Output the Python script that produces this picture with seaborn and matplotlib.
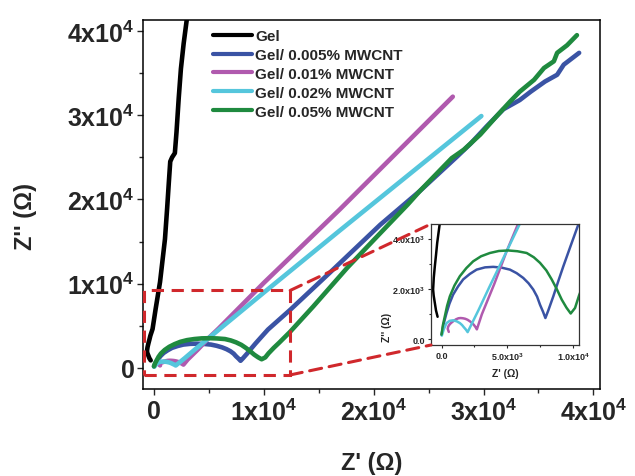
import matplotlib
matplotlib.use("Agg")
import matplotlib.pyplot as plt
import numpy as np
import pandas as pd
import seaborn as sns
from matplotlib.patches import Rectangle, ConnectionPatch
from matplotlib.lines import Line2D

# Nyquist data (Z' and Z'' in ohm)
gel_x = [-300, -420, -510, -600, -640, -590, -510, -420, -330, -130, 150, 550, 1000,
         1200, 1350, 1480, 1650, 1900, 2050, 2250, 2450, 2700, 3000]
gel_y = [900, 1150, 1450, 1750, 1980, 2450, 2900, 3350, 3830, 4620, 7000, 10200, 15300,
         19000, 22000, 24500, 25000, 25500, 28000, 32000, 35500, 38500, 41500]

cnt005_x = [0, 150, 380, 600, 880, 1250, 1640, 2150, 2660, 3300, 3920, 4550, 5190,
            5700, 6200, 6600, 6960, 7250, 7470, 7700, 7880, 8100, 8480, 8850, 9240,
            9800, 10380, 12400, 16000, 20600, 24200, 27600, 28800, 30300, 31800,
            33300, 34300, 35600, 36700, 37300, 38700]
cnt005_y = [190, 600, 1050, 1420, 1780, 2100, 2380, 2600, 2770, 2860, 2880, 2850, 2770,
            2630, 2440, 2230, 1980, 1700, 1380, 1100, 850, 1150, 1710, 2300, 2900,
            3720, 4560, 6900, 11300, 17000, 21000, 25100, 26600, 28700, 30700,
            31800, 32800, 34000, 34800, 36000, 37400]

cnt01_x = [550, 470, 500, 560, 650, 780, 930, 1100, 1280, 1450, 1630, 1800, 1980,
           2150, 2300, 2450, 2580, 2680, 3060, 4000, 4940, 5900, 10000, 16900, 27200]
cnt01_y = [300, 420, 500, 560, 620, 680, 740, 800, 840, 850, 840, 820, 780,
           720, 660, 580, 490, 400, 1000, 2200, 3500, 4700, 10100, 18800, 32200]

cnt02_x = [20, 180, 380, 620, 880, 1150, 1390, 1560, 1700, 1850, 1980, 2800, 3600,
           4940, 6000, 10000, 16900, 29800]
cnt02_y = [150, 420, 650, 740, 760, 720, 650, 570, 480, 390, 290, 1160, 2050,
           3500, 4650, 8950, 16300, 29900]

cnt05_x = [0, 100, 250, 420, 630, 980, 1390, 1880, 2400, 3000, 3670, 4350, 5060,
           5750, 6460, 7000, 7470, 7950, 8360, 8750, 9120, 9480, 9800, 10130, 10430,
           10900, 11400, 12400, 14500, 17600, 20600, 23100, 24200, 27100, 28200,
           29700, 31200, 32400, 33300, 34600, 35500, 36400, 36700, 37600, 38500]
cnt05_y = [190, 560, 920, 1330, 1710, 2140, 2510, 2830, 3100, 3300, 3430, 3510, 3530,
           3500, 3430, 3260, 3040, 2740, 2380, 1990, 1580, 1260, 1030, 1250, 1740,
           2380, 3000, 4300, 7300, 11900, 16000, 19400, 21000, 24900, 25900,
           27700, 29900, 31600, 32800, 34200, 35600, 36400, 37400, 38300, 39500]

labels = ["Gel", "Gel/ 0.005% MWCNT", "Gel/ 0.01% MWCNT",
          "Gel/ 0.02% MWCNT", "Gel/ 0.05% MWCNT"]
colors = ["#000000", "#3a53a4", "#b05aae", "#55c6dc", "#1f8a3f"]

main_xticks = [0, 10000, 20000, 30000, 40000]
main_xticklabels = ["0", "1x10$^4$", "2x10$^4$", "3x10$^4$", "4x10$^4$"]
main_yticks = [0, 10000, 20000, 30000, 40000]
main_yticklabels = ["0", "1x10$^4$", "2x10$^4$", "3x10$^4$", "4x10$^4$"]
ins_xticks = [0, 5000, 10000]
ins_xticklabels = ["0.0", "5.0x10$^3$", "1.0x10$^4$"]
ins_yticks = [0, 2000, 4000]
ins_yticklabels = ["0.0", "2.0x10$^3$", "4.0x10$^3$"]

# zoom window drawn on the main axes
zoom_x = (-900, 12400)
zoom_y = (-830, 9200)

series = [(gel_x, gel_y), (cnt005_x, cnt005_y), (cnt01_x, cnt01_y),
          (cnt02_x, cnt02_y), (cnt05_x, cnt05_y)]
frames = []
for lab, (xs, ys) in zip(labels, series):
    frames.append(pd.DataFrame({"zr": xs, "zi": ys, "sample": lab}))
df = pd.concat(frames, ignore_index=True)
palette = dict(zip(labels, colors))

sns.set_theme(style="ticks")
plt.rcParams["font.family"] = ["Liberation Sans", "DejaVu Sans"]
plt.rcParams["font.weight"] = "bold"
plt.rcParams["mathtext.fontset"] = "custom"
plt.rcParams["mathtext.rm"] = "Liberation Sans:bold"
plt.rcParams["mathtext.bf"] = "Liberation Sans:bold"
plt.rcParams["mathtext.it"] = "Liberation Sans:bold"
plt.rcParams["mathtext.default"] = "rm"

fig = plt.figure(figsize=(6.35, 4.77), dpi=100)
ax = fig.add_axes([143 / 635, 1 - 390 / 477, 457 / 635, 369 / 477])
axins = fig.add_axes([431 / 635, 1 - 346 / 477, 148 / 635, 121 / 477])

line_kws = dict(solid_joinstyle="round", solid_capstyle="round")

# main plot
sns.lineplot(data=df, x="zr", y="zi", hue="sample", palette=palette, sort=False,
             estimator=None, linewidth=3.3, legend=False, ax=ax, **line_kws)
ax.set_xlim(-1000, 40600)
ax.set_ylim(-2500, 41300)
ax.set_xticks(main_xticks)
ax.set_xticklabels(main_xticklabels)
ax.set_yticks(main_yticks)
ax.set_yticklabels(main_yticklabels)
ax.set_xticks(np.arange(5000, 40000, 10000), minor=True)
ax.set_yticks(np.arange(5000, 40000, 10000), minor=True)
ax.tick_params(which="major", length=4, width=1, direction="out", labelsize=18)
ax.tick_params(which="minor", length=3, width=1, direction="out")
ax.tick_params(axis="x", pad=3)
ax.tick_params(axis="y", pad=2)
for s in ax.spines.values():
    s.set_linewidth(1.1)
    s.set_color("black")
ax.set_xlabel("Z' (Ω)", fontsize=17, fontweight="bold")
ax.set_ylabel("Z'' (Ω)", fontsize=17, fontweight="bold")
ax.xaxis.set_label_coords(0.5, -0.198)
ax.xaxis.label.set_va("center")
ax.yaxis.set_label_coords(-0.258, 0.469)
ax.yaxis.label.set_va("center")

handles = [Line2D([], [], color=c, linewidth=3.0) for c in colors]
ax.legend(handles, labels, loc="upper left", bbox_to_anchor=(213 / 635, 1 - 30 / 477),
          bbox_transform=fig.transFigure, frameon=False, borderpad=0, borderaxespad=0,
          handlelength=2.55, handletextpad=0.2, labelspacing=0.32,
          prop={"size": 11, "weight": "bold"})

# zoom box and connectors
red = "#d0282c"
rect = Rectangle((zoom_x[0], zoom_y[0]), zoom_x[1] - zoom_x[0], zoom_y[1] - zoom_y[0],
                 fill=False, edgecolor=red, linewidth=2.2, linestyle=(0, (4, 2.5)),
                 zorder=5, clip_on=False)
ax.add_patch(rect)
for ya, yb in [(zoom_y[1], 1), (zoom_y[0], 0)]:
    con = ConnectionPatch(xyA=(zoom_x[1], ya), coordsA=ax.transData,
                          xyB=(0, yb), coordsB=axins.transAxes,
                          color=red, linewidth=2.2, linestyle=(0, (4, 2.5)), zorder=5)
    fig.add_artist(con)

# inset
sns.lineplot(data=df, x="zr", y="zi", hue="sample", palette=palette, sort=False,
             estimator=None, linewidth=1.8, legend=False, ax=axins, **line_kws)
axins.set_xlim(-800, 10430)
axins.set_ylim(-220, 4580)
axins.set_xticks(ins_xticks)
axins.set_xticklabels(ins_xticklabels)
axins.set_yticks(ins_yticks)
axins.set_yticklabels(ins_yticklabels)
axins.set_xticks([2500, 7500], minor=True)
axins.set_yticks([1000, 3000], minor=True)
axins.tick_params(which="major", length=2.5, width=0.8, direction="out", labelsize=6.5, pad=1.5)
axins.tick_params(which="minor", length=1.5, width=0.8, direction="out")
for s in axins.spines.values():
    s.set_linewidth(0.9)
    s.set_color("#333333")
axins.set_xlabel("Z' (Ω)", fontsize=7.5, fontweight="bold")
axins.set_ylabel("Z'' (Ω)", fontsize=7.5, fontweight="bold")
axins.xaxis.set_label_coords(0.5, -0.231)
axins.xaxis.label.set_va("center")
axins.yaxis.set_label_coords(-0.297, 0.157)
axins.yaxis.label.set_va("center")

fig.savefig("out.png", dpi=100)
